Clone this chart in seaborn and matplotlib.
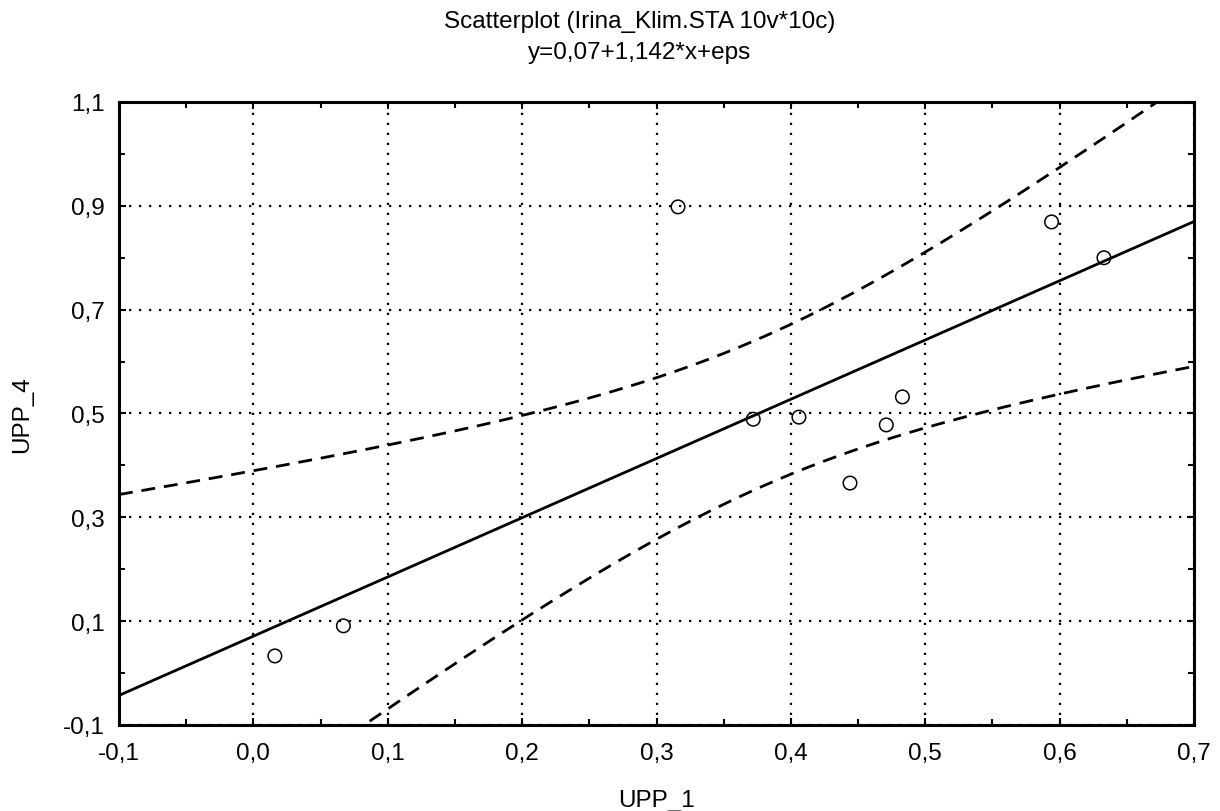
import numpy as np
import pandas as pd
import matplotlib
matplotlib.use("Agg")
import matplotlib.pyplot as plt
import seaborn as sns
from matplotlib.ticker import MultipleLocator, FixedLocator, FixedFormatter

# ---- data ----
upp_1 = [0.016, 0.067, 0.316, 0.372, 0.406, 0.444, 0.471, 0.483, 0.594, 0.633]
upp_4 = [0.033, 0.091, 0.898, 0.489, 0.493, 0.366, 0.478, 0.532, 0.869, 0.800]

x_ticks = [-0.1, 0.0, 0.1, 0.2, 0.3, 0.4, 0.5, 0.6, 0.7]
x_tick_labels = ["-0,1", "0,0", "0,1", "0,2", "0,3", "0,4", "0,5", "0,6", "0,7"]
y_ticks = [-0.1, 0.1, 0.3, 0.5, 0.7, 0.9, 1.1]
y_tick_labels = ["-0,1", "0,1", "0,3", "0,5", "0,7", "0,9", "1,1"]

title_1 = "Scatterplot (Irina_Klim.STA 10v*10c)"
title_2 = "y=0,07+1,142*x+eps"
x_label = "UPP_1"
y_label = "UPP_4"

T_975_DF8 = 2.306  # Student t quantile for 95% CI, 8 df

# ---- regression and 95% confidence band ----
x = np.array(upp_1)
y = np.array(upp_4)
n = len(x)
b1, b0 = np.polyfit(x, y, 1)
resid = y - (b0 + b1 * x)
s = np.sqrt(np.sum(resid ** 2) / (n - 2))
sxx = np.sum((x - x.mean()) ** 2)
xg = np.linspace(-0.1, 0.7, 200)
yg = b0 + b1 * xg
half = T_975_DF8 * s * np.sqrt(1.0 / n + (xg - x.mean()) ** 2 / sxx)
fit = pd.DataFrame({"x": xg, "fit": yg, "lo": yg - half, "hi": yg + half})
pts = pd.DataFrame({"UPP_1": upp_1, "UPP_4": upp_4})

# ---- figure ----
sns.set_theme(style="white")
plt.rcParams["font.family"] = ["Liberation Sans", "DejaVu Sans"]

FS = 17.5

fig = plt.figure(figsize=(12.2, 8.12), dpi=100)
ax = fig.add_axes([119 / 1220, 1 - 726 / 812, (1194 - 119) / 1220, (726 - 103) / 812])

sns.lineplot(data=fit, x="x", y="fit", ax=ax, color="black", lw=2.0, zorder=3)
sns.lineplot(data=fit, x="x", y="hi", ax=ax, color="black", lw=2.0,
             dashes=False, zorder=3).lines[-1].set_dashes([5, 3.2])
sns.lineplot(data=fit, x="x", y="lo", ax=ax, color="black", lw=2.0,
             dashes=False, zorder=3).lines[-1].set_dashes([5, 3.2])
sns.scatterplot(data=pts, x="UPP_1", y="UPP_4", ax=ax, marker="o", s=95,
                facecolor="none", edgecolor="black", linewidth=1.1, zorder=4)

ax.set_xlim(-0.1, 0.7)
ax.set_ylim(-0.1, 1.1)
ax.xaxis.set_major_locator(FixedLocator(x_ticks))
ax.xaxis.set_major_formatter(FixedFormatter(x_tick_labels))
ax.yaxis.set_major_locator(FixedLocator(y_ticks))
ax.yaxis.set_major_formatter(FixedFormatter(y_tick_labels))
ax.xaxis.set_minor_locator(MultipleLocator(0.05))
ax.yaxis.set_minor_locator(MultipleLocator(0.1))

ax.grid(True, which="major", color="black", linestyle=(0, (1, 3.5)), linewidth=1.6)
ax.tick_params(which="both", direction="in", top=True, right=True, bottom=True, left=True,
               color="black", width=1.5)
ax.tick_params(which="major", length=5, labelsize=FS, labelcolor="black")
ax.tick_params(axis="y", which="major", pad=10)
ax.tick_params(axis="x", which="major", pad=12)
ax.tick_params(which="minor", length=4)
for sp in ax.spines.values():
    sp.set_visible(True)
    sp.set_color("black")
    sp.set_linewidth(2.2)

ax.set_xlabel(x_label, fontsize=FS, labelpad=18, color="black")
ax.set_ylabel(y_label, fontsize=FS, labelpad=22, color="black")
fig.text(640 / 1220, 1 - 22 / 812, title_1, ha="center", va="center", fontsize=FS, color="black")
fig.text(640 / 1220, 1 - 53 / 812, title_2, ha="center", va="center", fontsize=FS, color="black")

fig.savefig("out.png", dpi=100)
